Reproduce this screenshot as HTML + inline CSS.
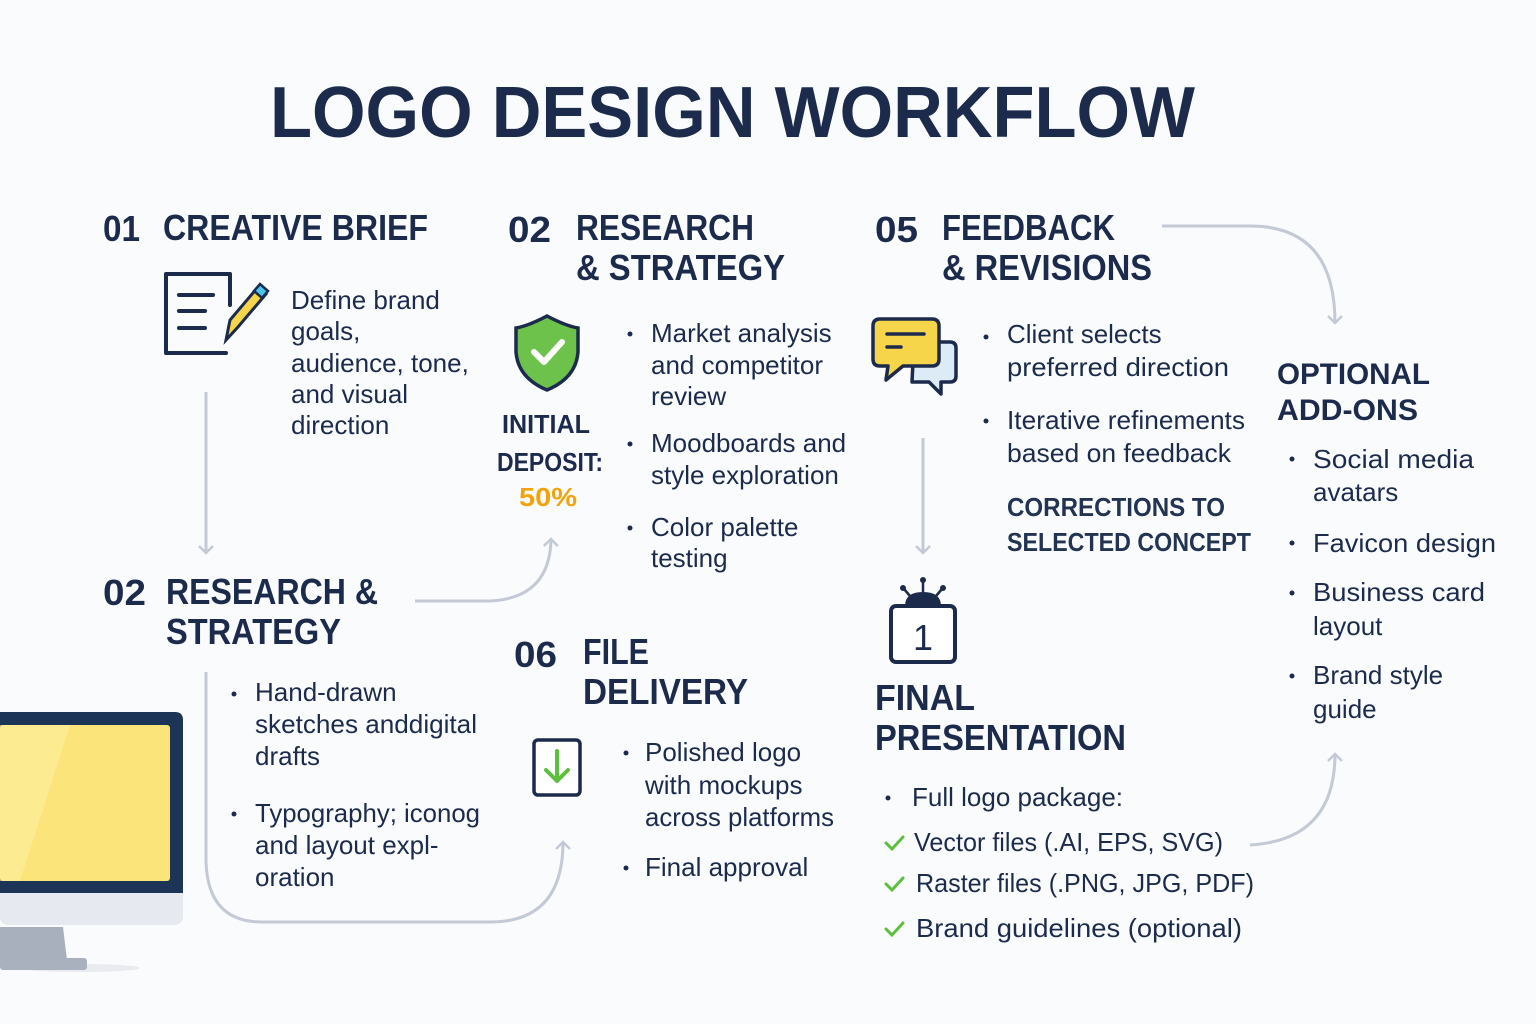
<!DOCTYPE html>
<html><head><meta charset="utf-8"><style>
html,body{margin:0;padding:0;background:#fafbfc;}
svg{display:block}
text{font-family:"Liberation Sans",sans-serif;fill:#1c2b4c}
.h{font-weight:bold;font-size:36px}
.b{font-size:26px}
.o{font-weight:bold;font-size:30px}
</style></head><body>
<svg width="1536" height="1024" viewBox="0 0 1536 1024" xmlns="http://www.w3.org/2000/svg">
<rect width="1536" height="1024" fill="#fafbfc"/>
<defs>
<marker id="ah" markerWidth="16" markerHeight="16" refX="8" refY="8" orient="auto" markerUnits="userSpaceOnUse">
<path d="M1,1 L8,8 L1,15" fill="none" stroke="#c3cad6" stroke-width="2.5"/>
</marker>
</defs>
<text x="270" y="137" font-weight="bold" font-size="72" textLength="925" lengthAdjust="spacingAndGlyphs">LOGO DESIGN WORKFLOW</text>

<g fill="none" stroke="#c3cad6" stroke-width="3">
<path d="M206,392 L206,553" marker-end="url(#ah)"/>
<path d="M923,438 L923,553" marker-end="url(#ah)"/>
<path d="M1162,226 L1250,226 Q1335,226 1335,323" marker-end="url(#ah)"/>
<path d="M1250,845 Q1335,840 1335,754" marker-end="url(#ah)"/>
<path d="M415,601 L490,601 Q550,598 551,539" marker-end="url(#ah)"/>
<path d="M206,672 L206,862 Q208,922 262,922 L490,922 Q563,922 563,842" marker-end="url(#ah)"/>
</g>

<text class="h" x="103" y="241" textLength="37" lengthAdjust="spacingAndGlyphs">01</text>
<text class="h" x="163" y="240" textLength="265" lengthAdjust="spacingAndGlyphs">CREATIVE BRIEF</text>
<g fill="none" stroke="#1c2b4c" stroke-width="4" stroke-linejoin="round" stroke-linecap="round">
<path d="M230,274 L166,274 L166,353 L226,353 M230,274 L230,305"/>
<path d="M179,295 L213,295 M179,311 L205,311 M179,328 L205,328"/>
</g>
<path d="M226,340 L230,320 L258,287 L266,294 L238,327 Z" fill="#f7d54a" stroke="#1c2b4c" stroke-width="3"/>
<path d="M254,291 L260,284 L268,291 L262,298 Z" fill="#4cc6e8" stroke="#1c2b4c" stroke-width="2.5"/>
<text class="b" x="291" y="309">Define brand</text>
<text class="b" x="291" y="340">goals,</text>
<text class="b" x="291" y="372">audience, tone,</text>
<text class="b" x="291" y="403">and visual</text>
<text class="b" x="291" y="434">direction</text>

<text class="h" x="508" y="242" textLength="43" lengthAdjust="spacingAndGlyphs">02</text>
<text class="h" x="576" y="240" textLength="178" lengthAdjust="spacingAndGlyphs">RESEARCH</text>
<text class="h" x="576" y="280" textLength="209" lengthAdjust="spacingAndGlyphs">&amp; STRATEGY</text>
<path d="M547,316 Q566,326 578,328 L578,352 Q576,378 547,390 Q518,378 516,352 L516,328 Q528,326 547,316 Z" fill="#6cc24a" stroke="#1c2b4c" stroke-width="3.5"/>
<path d="M534,352 L544,362 L562,342" fill="none" stroke="#fff" stroke-width="6" stroke-linecap="round" stroke-linejoin="round"/>
<text x="502" y="433" font-weight="bold" font-size="26" textLength="88" lengthAdjust="spacingAndGlyphs">INITIAL</text>
<text x="497" y="471" font-weight="bold" font-size="26" textLength="106" lengthAdjust="spacingAndGlyphs">DEPOSIT:</text>
<text x="519" y="506" font-weight="bold" font-size="26" style="fill:#f0a30a" textLength="58" lengthAdjust="spacingAndGlyphs">50%</text>
<g fill="#1c2b4c"><circle cx="630" cy="334" r="2.5"/><circle cx="630" cy="444" r="2.5"/><circle cx="630" cy="528" r="2.5"/></g>
<text class="b" x="651" y="342">Market analysis</text>
<text class="b" x="651" y="374">and competitor</text>
<text class="b" x="651" y="405">review</text>
<text class="b" x="651" y="452">Moodboards and</text>
<text class="b" x="651" y="484">style exploration</text>
<text class="b" x="651" y="536">Color palette</text>
<text class="b" x="651" y="567">testing</text>

<text class="h" x="875" y="242" textLength="43" lengthAdjust="spacingAndGlyphs">05</text>
<text class="h" x="942" y="240" textLength="173" lengthAdjust="spacingAndGlyphs">FEEDBACK</text>
<text class="h" x="942" y="280" textLength="210" lengthAdjust="spacingAndGlyphs">&amp; REVISIONS</text>
<path d="M914,342 L950,342 Q956,342 956,348 L956,376 Q956,382 950,382 L941,382 L941,394 L929,382 L912,382 Z" fill="#ddebf7" stroke="#1c2b4c" stroke-width="3.5" stroke-linejoin="round"/>
<path d="M880,319 L932,319 Q939,319 939,326 L939,359 Q939,366 932,366 L903,366 L886,380 L888,366 L880,366 Q873,366 873,359 L873,326 Q873,319 880,319 Z" fill="#f7d54a" stroke="#1c2b4c" stroke-width="3.5" stroke-linejoin="round"/>
<path d="M887,334 L924,334 M887,347 L901,347" stroke="#1c2b4c" stroke-width="3.5" stroke-linecap="round"/>
<g fill="#1c2b4c"><circle cx="986" cy="337" r="2.5"/><circle cx="986" cy="421" r="2.5"/></g>
<text class="b" x="1007" y="343">Client selects</text>
<text class="b" x="1007" y="376" textLength="222" lengthAdjust="spacingAndGlyphs">preferred direction</text>
<text class="b" x="1007" y="429" textLength="238" lengthAdjust="spacingAndGlyphs">Iterative refinements</text>
<text class="b" x="1007" y="462" textLength="224" lengthAdjust="spacingAndGlyphs">based on feedback</text>
<text x="1007" y="516" font-size="26" font-weight="bold" textLength="218" lengthAdjust="spacingAndGlyphs" style="fill:#233352">CORRECTIONS TO</text>
<text x="1007" y="551" font-size="26" font-weight="bold" textLength="244" lengthAdjust="spacingAndGlyphs" style="fill:#233352">SELECTED CONCEPT</text>

<text class="o" x="1277" y="384" textLength="153" lengthAdjust="spacingAndGlyphs">OPTIONAL</text>
<text class="o" x="1277" y="420" textLength="141" lengthAdjust="spacingAndGlyphs">ADD-ONS</text>
<g fill="#1c2b4c"><circle cx="1292" cy="459" r="2.5"/><circle cx="1292" cy="543" r="2.5"/><circle cx="1292" cy="593" r="2.5"/><circle cx="1292" cy="676" r="2.5"/></g>
<text class="b" x="1313" y="468" textLength="161" lengthAdjust="spacingAndGlyphs">Social media</text>
<text class="b" x="1313" y="501">avatars</text>
<text class="b" x="1313" y="552" textLength="183" lengthAdjust="spacingAndGlyphs">Favicon design</text>
<text class="b" x="1313" y="601" textLength="172" lengthAdjust="spacingAndGlyphs">Business card</text>
<text class="b" x="1313" y="635">layout</text>
<text class="b" x="1313" y="684">Brand style</text>
<text class="b" x="1313" y="718">guide</text>

<path d="M905,606 Q905,592 923,592 Q941,592 941,606 Z" fill="#1c2b4c"/>
<g stroke="#1c2b4c" stroke-width="2.5"><path d="M923,592 L923,582 M910,596 L904,589 M936,596 L942,589"/></g>
<g fill="#1c2b4c"><circle cx="923" cy="580" r="3"/><circle cx="903" cy="588" r="3"/><circle cx="943" cy="588" r="3"/></g>
<rect x="891" y="606" width="64" height="56" rx="5" fill="#fff" stroke="#1c2b4c" stroke-width="4"/>
<text x="923" y="650" font-size="36" text-anchor="middle">1</text>
<text class="h" x="875" y="710" textLength="100" lengthAdjust="spacingAndGlyphs">FINAL</text>
<text class="h" x="875" y="750" textLength="251" lengthAdjust="spacingAndGlyphs">PRESENTATION</text>
<circle cx="888" cy="798" r="2.5" fill="#1c2b4c"/>
<text class="b" x="912" y="806">Full logo package:</text>
<g fill="none" stroke="#5cbf3e" stroke-width="3" stroke-linecap="round"><path d="M886,843 L892,849 L903,837"/><path d="M886,884 L892,890 L903,878"/><path d="M886,929 L892,935 L903,923"/></g>
<text class="b" x="914" y="851" textLength="309" lengthAdjust="spacingAndGlyphs">Vector files (.AI, EPS, SVG)</text>
<text class="b" x="916" y="892" textLength="338" lengthAdjust="spacingAndGlyphs">Raster files (.PNG, JPG, PDF)</text>
<text class="b" x="916" y="937" textLength="326" lengthAdjust="spacingAndGlyphs">Brand guidelines (optional)</text>

<text class="h" x="103" y="605" textLength="43" lengthAdjust="spacingAndGlyphs">02</text>
<text class="h" x="166" y="604" textLength="212" lengthAdjust="spacingAndGlyphs">RESEARCH &amp;</text>
<text class="h" x="166" y="644" textLength="175" lengthAdjust="spacingAndGlyphs">STRATEGY</text>
<g fill="#1c2b4c"><circle cx="234" cy="694" r="2.5"/><circle cx="234" cy="814" r="2.5"/></g>
<text class="b" x="255" y="701">Hand-drawn</text>
<text class="b" x="255" y="733" textLength="222" lengthAdjust="spacingAndGlyphs">sketches anddigital</text>
<text class="b" x="255" y="765">drafts</text>
<text class="b" x="255" y="822" textLength="225" lengthAdjust="spacingAndGlyphs">Typography; iconog</text>
<text class="b" x="255" y="854">and layout expl-</text>
<text class="b" x="255" y="886">oration</text>

<ellipse cx="80" cy="968" rx="60" ry="4" fill="#e8ebf0"/>
<path d="M0,927 L63,927 L67,960 L0,960 Z" fill="#a9b0bd"/>
<rect x="0" y="958" width="87" height="12" rx="3" fill="#aab1be"/>
<rect x="0" y="712" width="183" height="213" rx="8" fill="#e6e9ef"/>
<path d="M0,712 L175,712 Q183,712 183,720 L183,893 L0,893 Z" fill="#1c3456"/>
<rect x="0" y="725" width="170" height="156" rx="3" fill="#fbe47a"/>
<path d="M0,725 L70,725 L20,881 L0,881 Z" fill="#fdf0a0" opacity="0.6"/>

<text class="h" x="514" y="667" textLength="43" lengthAdjust="spacingAndGlyphs">06</text>
<text class="h" x="583" y="664" textLength="66" lengthAdjust="spacingAndGlyphs">FILE</text>
<text class="h" x="583" y="704" textLength="165" lengthAdjust="spacingAndGlyphs">DELIVERY</text>
<rect x="534" y="740" width="46" height="55" rx="4" fill="#fff" stroke="#1c2b4c" stroke-width="3.5"/>
<path d="M557,751 L557,781 M546,770 L557,781 L568,770" fill="none" stroke="#5cbf3e" stroke-width="4" stroke-linecap="round" stroke-linejoin="round"/>
<g fill="#1c2b4c"><circle cx="626" cy="753" r="2.5"/><circle cx="626" cy="868" r="2.5"/></g>
<text class="b" x="645" y="761">Polished logo</text>
<text class="b" x="645" y="794">with mockups</text>
<text class="b" x="645" y="826" textLength="189" lengthAdjust="spacingAndGlyphs">across platforms</text>
<text class="b" x="645" y="876">Final approval</text>
</svg>
</body></html>
